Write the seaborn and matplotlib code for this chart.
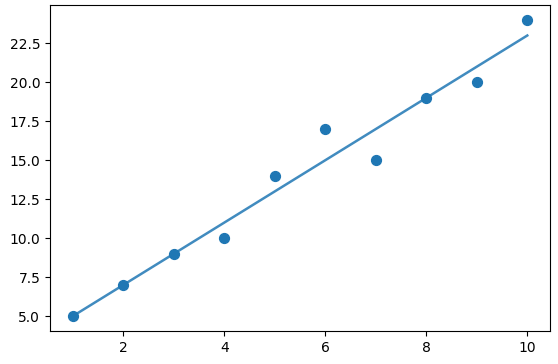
import matplotlib
matplotlib.use("Agg")
import matplotlib.pyplot as plt
import seaborn as sns
import pandas as pd

x_values = [1, 2, 3, 4, 5, 6, 7, 8, 9, 10]
y_values = [5, 7, 9, 10, 14, 17, 15, 19, 20, 24]

df = pd.DataFrame({"x": x_values, "y": y_values})

fig, ax = plt.subplots(figsize=(5.58, 3.64), dpi=100)
sns.regplot(data=df, x="x", y="y", ci=None, ax=ax, color="#1f77b4",
            scatter_kws={"s": 50, "alpha": 1}, line_kws={"alpha": 0.85, "lw": 1.8})
ax.set_xlabel("")
ax.set_ylabel("")
ax.set_xticks([2, 4, 6, 8, 10])
fig.subplots_adjust(left=0.0896, right=0.9857, top=0.986, bottom=0.0907)
fig.savefig("out.png", dpi=100)
